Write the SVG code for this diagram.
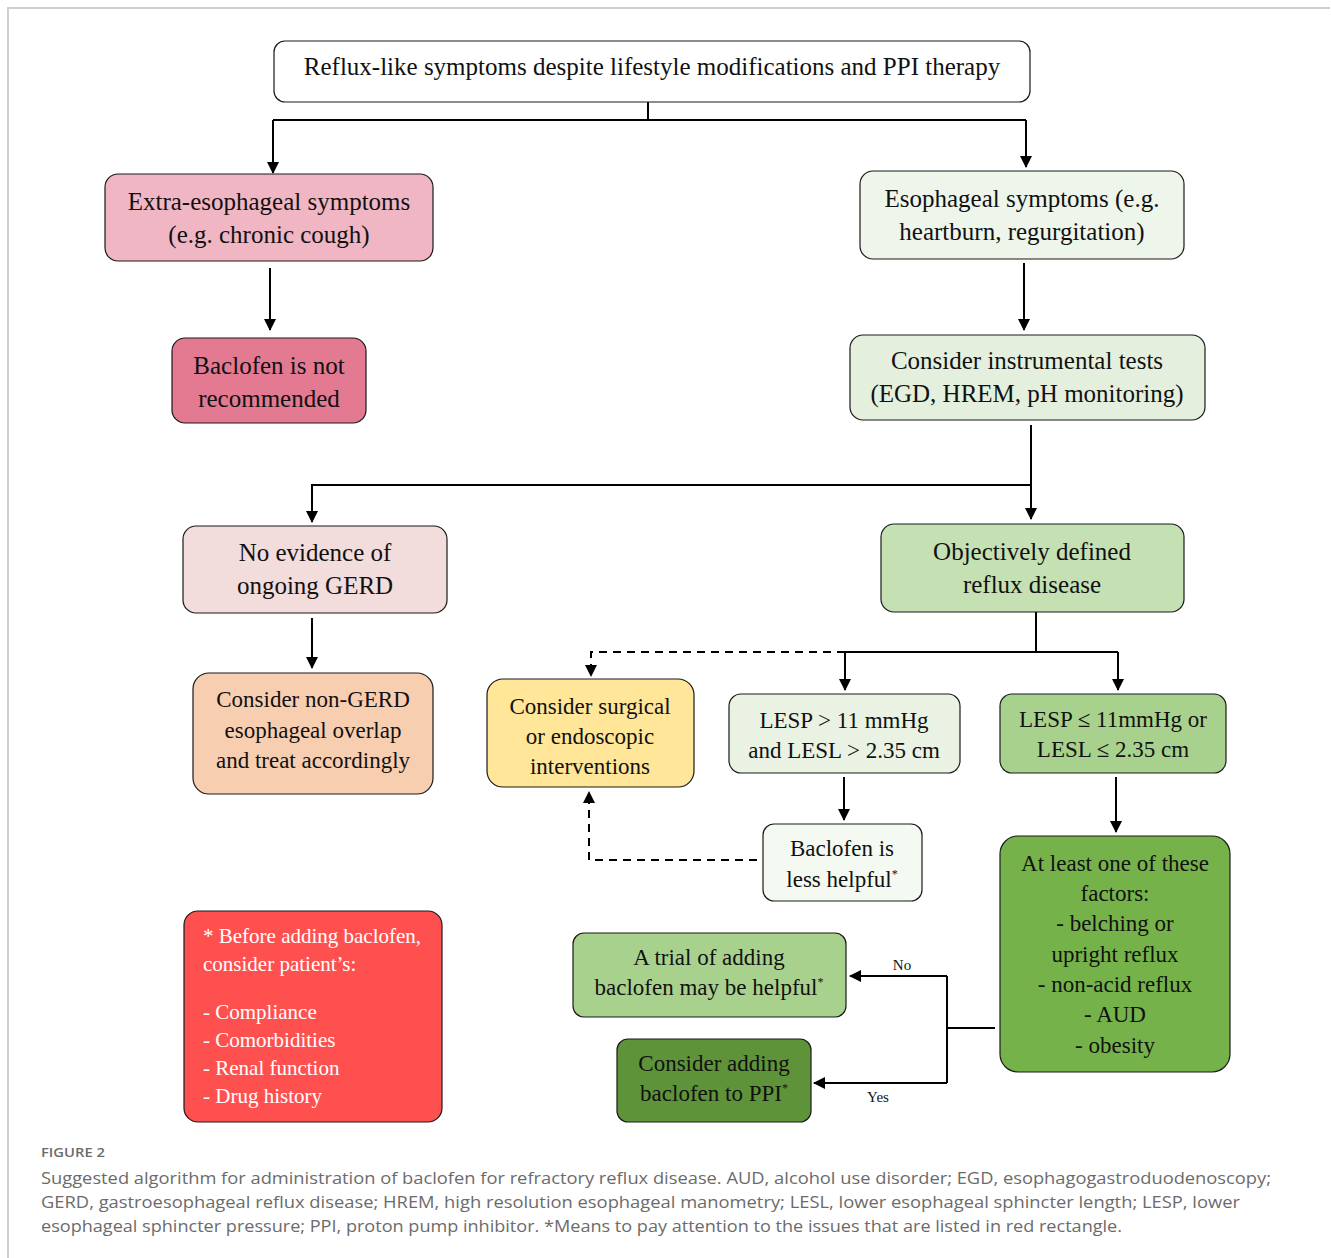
<svg xmlns="http://www.w3.org/2000/svg" width="1331" height="1258" viewBox="0 0 1331 1258">
<defs>
<style>
.n{stroke:#1a1a1a;stroke-width:1.2}
.t{font-family:"Liberation Serif","Times New Roman",serif;font-size:25px;fill:#111;text-anchor:middle}
.s{font-size:23px}
.w{fill:#fff;text-anchor:start;font-size:21px}
.c{fill:none;stroke:#000;stroke-width:2}
.d{stroke-dasharray:8 6}
.lab{font-family:"Liberation Serif","Times New Roman",serif;font-size:15px;fill:#111}
.cap{font-family:"Open Sans","Noto Sans",sans-serif;fill:#6b6b6b}
.sup{font-size:12px}
</style>
<marker id="ah" viewBox="0 0 12 12" refX="11" refY="6" markerWidth="12" markerHeight="12" markerUnits="userSpaceOnUse" orient="auto">
<path d="M0,0 L12,6 L0,12 z" fill="#000"/>
</marker>
</defs>
<rect width="1331" height="1258" fill="#fff"/>
<path d="M8,1258 V8 H1330" fill="none" stroke="#cfcfcf" stroke-width="2"/>

<g id="connectors">
<path class="c" d="M648,102 V120"/>
<path class="c" d="M273,120 H1026"/>
<path class="c" d="M273,120 V173" marker-end="url(#ah)"/>
<path class="c" d="M1026,120 V167" marker-end="url(#ah)"/>
<path class="c" d="M270,268 V330" marker-end="url(#ah)"/>
<path class="c" d="M1024,263 V330" marker-end="url(#ah)"/>
<path class="c" d="M1031,425 V519" marker-end="url(#ah)"/>
<path class="c" d="M1031,485 H312 V522" marker-end="url(#ah)"/>
<path class="c" d="M312,618 V668" marker-end="url(#ah)"/>
<path class="c" d="M1036,612 V652"/>
<path class="c" d="M845,652 H1118"/>
<path class="c" d="M845,652 V690" marker-end="url(#ah)"/>
<path class="c" d="M1118,652 V690" marker-end="url(#ah)"/>
<path class="c d" d="M845,652 H591 V676" marker-end="url(#ah)"/>
<path class="c" d="M844,777 V820" marker-end="url(#ah)"/>
<path class="c d" d="M757,860 H589 V792" marker-end="url(#ah)"/>
<path class="c" d="M1116,777 V832" marker-end="url(#ah)"/>
<path class="c" d="M995,1028 H947"/>
<path class="c" d="M947,976 V1083"/>
<path class="c" d="M947,976 H850" marker-end="url(#ah)"/>
<path class="c" d="M947,1083 H814" marker-end="url(#ah)"/>
<text class="lab" x="902" y="970" text-anchor="middle">No</text>
<text class="lab" x="878" y="1102" text-anchor="middle">Yes</text>
</g>

<g id="n-start">
<rect class="n" x="274" y="41" width="756" height="61" rx="11" fill="#fff"/>
<text class="t" x="652" y="75">Reflux-like symptoms despite lifestyle modifications and PPI therapy</text>
</g>
<g id="n-extra">
<rect class="n" x="105" y="174" width="328" height="87" rx="13" fill="#F0B6C3"/>
<text class="t" x="269" y="210">Extra-esophageal symptoms</text>
<text class="t" x="269" y="243">(e.g. chronic cough)</text>
</g>
<g id="n-notrec">
<rect class="n" x="172" y="338" width="194" height="85" rx="13" fill="#E37A92"/>
<text class="t" x="269" y="374">Baclofen is not</text>
<text class="t" x="269" y="407">recommended</text>
</g>
<g id="n-esoph">
<rect class="n" x="860" y="171" width="324" height="88" rx="13" fill="#EEF5EA"/>
<text class="t" x="1022" y="207">Esophageal symptoms (e.g.</text>
<text class="t" x="1022" y="240">heartburn, regurgitation)</text>
</g>
<g id="n-tests">
<rect class="n" x="850" y="335" width="355" height="85" rx="13" fill="#E4F0DD"/>
<text class="t" x="1027" y="369">Consider instrumental tests</text>
<text class="t" x="1027" y="402">(EGD, HREM, pH monitoring)</text>
</g>
<g id="n-noevid">
<rect class="n" x="183" y="526" width="264" height="87" rx="13" fill="#F2DCDC"/>
<text class="t" x="315" y="561">No evidence of</text>
<text class="t" x="315" y="594">ongoing GERD</text>
</g>
<g id="n-nongerd">
<rect class="n" x="193" y="673" width="240" height="121" rx="16" fill="#F8CEB0"/>
<text class="t s" x="313" y="707">Consider non-GERD</text>
<text class="t s" x="313" y="738">esophageal overlap</text>
<text class="t s" x="313" y="768">and treat accordingly</text>
</g>
<g id="n-objective">
<rect class="n" x="881" y="524" width="303" height="88" rx="13" fill="#C5E0B3"/>
<text class="t" x="1032" y="560">Objectively defined</text>
<text class="t" x="1032" y="593">reflux disease</text>
</g>
<g id="n-surgical">
<rect class="n" x="487" y="679" width="207" height="108" rx="16" fill="#FFE699"/>
<text class="t s" x="590" y="714">Consider surgical</text>
<text class="t s" x="590" y="744">or endoscopic</text>
<text class="t s" x="590" y="774">interventions</text>
</g>
<g id="n-lesp-high">
<rect class="n" x="729" y="694" width="231" height="79" rx="12" fill="#EAF3E3"/>
<text class="t s" x="844" y="728">LESP &gt; 11 mmHg</text>
<text class="t s" x="844" y="758">and LESL &gt; 2.35 cm</text>
</g>
<g id="n-lesp-low">
<rect class="n" x="1000" y="694" width="226" height="79" rx="12" fill="#A9D18E"/>
<text class="t s" x="1113" y="727">LESP ≤ 11mmHg or</text>
<text class="t s" x="1113" y="757">LESL ≤ 2.35 cm</text>
</g>
<g id="n-lesshelp">
<rect class="n" x="763" y="824" width="159" height="77" rx="11" fill="#F4F9F1"/>
<text class="t s" x="842" y="856">Baclofen is</text>
<text class="t s" x="842" y="887">less helpful<tspan class="sup" dy="-9">*</tspan></text>
</g>
<g id="n-factors">
<rect class="n" x="1000" y="836" width="230" height="236" rx="18" fill="#75B34A"/>
<text class="t s" x="1115" y="871">At least one of these</text>
<text class="t s" x="1115" y="901">factors:</text>
<text class="t s" x="1115" y="931">- belching or</text>
<text class="t s" x="1115" y="962">upright reflux</text>
<text class="t s" x="1115" y="992">- non-acid reflux</text>
<text class="t s" x="1115" y="1022">- AUD</text>
<text class="t s" x="1115" y="1053">- obesity</text>
</g>
<g id="n-trial">
<rect class="n" x="573" y="933" width="273" height="84" rx="11" fill="#A9D18E"/>
<text class="t s" x="709" y="965">A trial of adding</text>
<text class="t s" x="709" y="995">baclofen may be helpful<tspan class="sup" dy="-9">*</tspan></text>
</g>
<g id="n-addppi">
<rect class="n" x="617" y="1039" width="194" height="83" rx="11" fill="#5E9339"/>
<text class="t s" x="714" y="1071">Consider adding</text>
<text class="t s" x="714" y="1101">baclofen to PPI<tspan class="sup" dy="-9">*</tspan></text>
</g>
<g id="n-note">
<rect class="n" x="184" y="911" width="258" height="211" rx="14" fill="#FF5050"/>
<text class="t w" x="203" y="943">* Before adding baclofen,</text>
<text class="t w" x="203" y="971">consider patient’s:</text>
<text class="t w" x="203" y="1019">- Compliance</text>
<text class="t w" x="203" y="1047">- Comorbidities</text>
<text class="t w" x="203" y="1075">- Renal function</text>
<text class="t w" x="203" y="1103">- Drug history</text>
</g>

<g id="caption">
<text class="cap" x="41" y="1157" font-size="13" font-weight="600" textLength="64" lengthAdjust="spacingAndGlyphs">FIGURE 2</text>
<text class="cap" x="41" y="1184" font-size="17" textLength="1230" lengthAdjust="spacingAndGlyphs">Suggested algorithm for administration of baclofen for refractory reflux disease. AUD, alcohol use disorder; EGD, esophagogastroduodenoscopy;</text>
<text class="cap" x="41" y="1208" font-size="17" textLength="1199" lengthAdjust="spacingAndGlyphs">GERD, gastroesophageal reflux disease; HREM, high resolution esophageal manometry; LESL, lower esophageal sphincter length; LESP, lower</text>
<text class="cap" x="41" y="1232" font-size="17" textLength="1081" lengthAdjust="spacingAndGlyphs">esophageal sphincter pressure; PPI, proton pump inhibitor. *Means to pay attention to the issues that are listed in red rectangle.</text>
</g>
</svg>
